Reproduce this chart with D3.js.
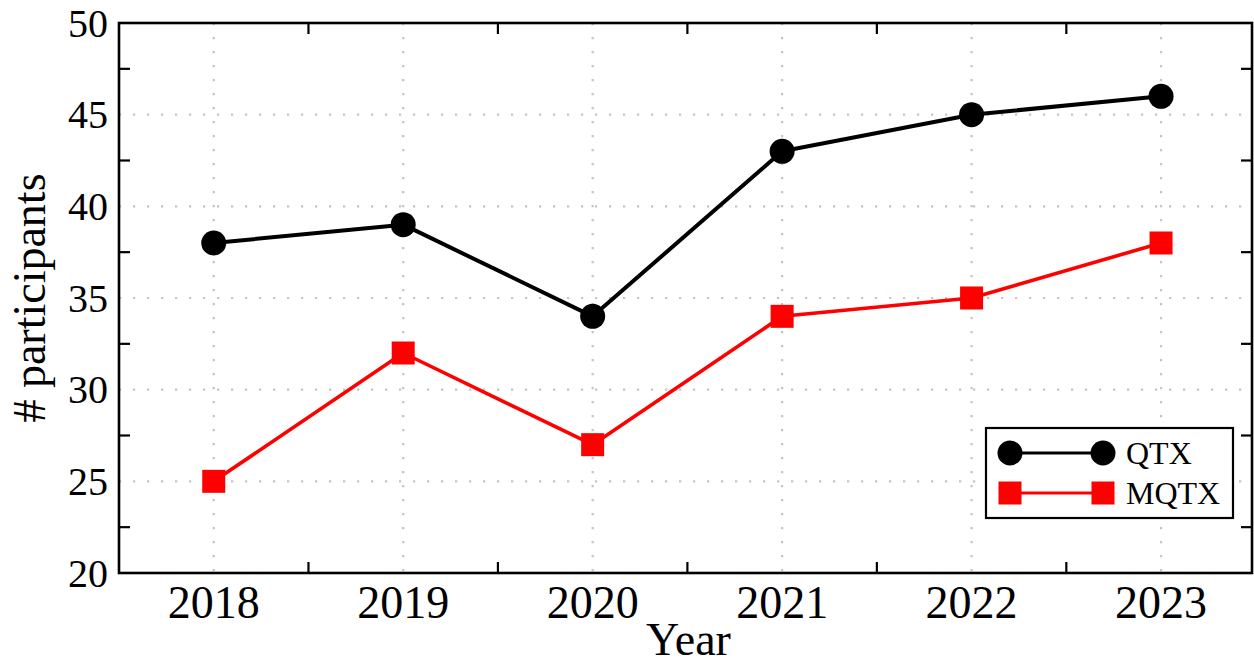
<!DOCTYPE html>
<html>
<head>
<meta charset="utf-8">
<script src="https://cdn.jsdelivr.net/npm/d3@7"></script>
<style>
  html, body { margin: 0; padding: 0; background: #fff; }
  svg { display: block; }
  text { font-family: "Liberation Serif", "Times New Roman", serif; fill: #000; }
</style>
</head>
<body>
<svg id="chart" width="1254" height="666"></svg>
<script>
// Participants per year
const years = [2018, 2019, 2020, 2021, 2022, 2023];
const qtx = [38, 39, 34, 43, 45, 46];
const mqtx = [25, 32, 27, 34, 35, 38];
const yTicks = [20, 25, 30, 35, 40, 45, 50];
const yMinorTicks = [22.5, 27.5, 32.5, 37.5, 42.5, 47.5];
const xMinorTicks = [2018.5, 2019.5, 2020.5, 2021.5, 2022.5];

const series = [
  { name: "QTX", values: qtx, color: "#000000", marker: "circle", width: 4 },
  { name: "MQTX", values: mqtx, color: "#ff0000", marker: "square", width: 3.6 }
];

const svg = d3.select("#chart");
const plot = { left: 119, right: 1252, top: 23, bottom: 573 };

const x = d3.scaleLinear().domain([2017.5, 2023.48]).range([plot.left, plot.right]);
const y = d3.scaleLinear().domain([20, 50]).range([plot.bottom, plot.top]);

// Dotted grid
const grid = svg.append("g");
grid.selectAll("line.gx").data(years).join("line")
  .attr("x1", d => x(d)).attr("x2", d => x(d))
  .attr("y1", plot.top).attr("y2", plot.bottom)
  .attr("stroke", "#c4c4c4").attr("stroke-width", 2.2)
  .attr("stroke-dasharray", "2.2,11.8");
grid.selectAll("line.gy").data(yTicks.slice(1, -1)).join("line")
  .attr("x1", plot.left).attr("x2", plot.right)
  .attr("y1", d => y(d)).attr("y2", d => y(d))
  .attr("stroke", "#c4c4c4").attr("stroke-width", 2.2)
  .attr("stroke-dasharray", "2.2,11.8");

// Minor tick marks pointing inward on all four sides
const tickLen = 11;
const ticks = svg.append("g").attr("stroke", "#000").attr("stroke-width", 2.2);
ticks.selectAll("line.yl").data(yMinorTicks).join("line")
  .attr("x1", plot.left).attr("x2", plot.left + tickLen)
  .attr("y1", d => y(d)).attr("y2", d => y(d));
ticks.selectAll("line.yr").data(yMinorTicks).join("line")
  .attr("x1", plot.right).attr("x2", plot.right - tickLen)
  .attr("y1", d => y(d)).attr("y2", d => y(d));
ticks.selectAll("line.xb").data(xMinorTicks).join("line")
  .attr("x1", d => x(d)).attr("x2", d => x(d))
  .attr("y1", plot.bottom).attr("y2", plot.bottom - tickLen);
ticks.selectAll("line.xt").data(xMinorTicks).join("line")
  .attr("x1", d => x(d)).attr("x2", d => x(d))
  .attr("y1", plot.top).attr("y2", plot.top + tickLen);

// Frame
svg.append("rect")
  .attr("x", plot.left).attr("y", plot.top)
  .attr("width", plot.right - plot.left).attr("height", plot.bottom - plot.top)
  .attr("fill", "none").attr("stroke", "#000").attr("stroke-width", 2.6);

// Tick labels
svg.append("g").selectAll("text").data(yTicks).join("text")
  .attr("x", plot.left - 11).attr("y", d => y(d))
  .attr("dy", "0.34em").attr("text-anchor", "end")
  .attr("font-size", 40).text(d => d);
svg.append("g").selectAll("text").data(years).join("text")
  .attr("x", d => x(d)).attr("y", 618)
  .attr("text-anchor", "middle")
  .attr("font-size", 46).text(d => d);

// Axis titles
svg.append("text")
  .attr("x", (plot.left + plot.right) / 2 + 3).attr("y", 655)
  .attr("text-anchor", "middle").attr("font-size", 46).text("Year");
svg.append("text")
  .attr("transform", `translate(45, ${(plot.top + plot.bottom) / 2}) rotate(-90)`)
  .attr("text-anchor", "middle").attr("font-size", 46).text("# participants");

// Lines and markers
const line = d3.line().x((d, i) => x(years[i])).y(d => y(d));

function drawMarker(g, kind, color, cx, cy) {
  if (kind === "circle") {
    g.append("circle").attr("cx", cx).attr("cy", cy).attr("r", 12.5).attr("fill", color);
  } else {
    g.append("rect").attr("x", cx - 11.5).attr("y", cy - 11.5)
      .attr("width", 23).attr("height", 23).attr("fill", color);
  }
}

series.forEach(s => {
  const g = svg.append("g");
  g.append("path").datum(s.values)
    .attr("d", line).attr("fill", "none")
    .attr("stroke", s.color).attr("stroke-width", s.width)
    .attr("stroke-linejoin", "round");
  s.values.forEach((v, i) => drawMarker(g, s.marker, s.color, x(years[i]), y(v)));
});

// Legend
const legend = svg.append("g");
legend.append("rect")
  .attr("x", 986).attr("y", 428).attr("width", 247).attr("height", 90)
  .attr("fill", "#fff").attr("stroke", "#000").attr("stroke-width", 2.2);
series.forEach((s, i) => {
  const ly = 453 + i * 40;
  legend.append("line")
    .attr("x1", 1010).attr("x2", 1103).attr("y1", ly).attr("y2", ly)
    .attr("stroke", s.color).attr("stroke-width", 3);
  drawMarker(legend, s.marker, s.color, 1010, ly);
  drawMarker(legend, s.marker, s.color, 1103, ly);
  legend.append("text")
    .attr("x", 1126).attr("y", ly).attr("dy", "0.34em")
    .attr("font-size", 32).text(s.name);
});
</script>
</body>
</html>
